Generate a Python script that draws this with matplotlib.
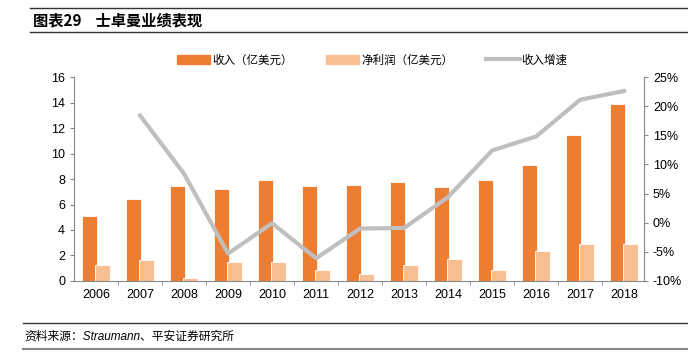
import numpy as np
import matplotlib
matplotlib.use('Agg')
from matplotlib import pyplot as plt
from matplotlib.lines import Line2D

plt.rcParams['font.family'] = ['Liberation Sans', 'Noto Sans CJK SC', 'DejaVu Sans']

years = ['2006', '2007', '2008', '2009', '2010', '2011', '2012',
         '2013', '2014', '2015', '2016', '2017', '2018']
revenue = [5.09, 6.40, 7.47, 7.23, 7.96, 7.47, 7.54, 7.73, 7.36, 7.96, 9.08, 11.43, 13.88]
profit = [1.25, 1.64, 0.20, 1.51, 1.51, 0.86, 0.52, 1.25, 1.72, 0.83, 2.35, 2.90, 2.87]
growth = [np.nan, 18.4, 8.4, -5.3, -0.1, -6.1, -1.0, -0.9, 4.4, 12.4, 14.8, 21.1, 22.6]

rev_color = '#ED7D31'
prof_color = '#F8BF95'
line_color = '#BFBFBF'
cjk = ['Noto Sans CJK SC', 'DejaVu Sans']

fig = plt.figure(figsize=(6.88, 3.55), dpi=100)
ax = fig.add_axes([0.1076, 0.2085, 0.8284, 0.5745])
x = np.arange(len(years))

ax.bar(x - 0.145, revenue, width=0.35, color=rev_color, edgecolor='white', linewidth=0.6, zorder=2)
ax.bar(x + 0.145, profit, width=0.35, color=prof_color, edgecolor='white', linewidth=0.6, zorder=2)
ax.set_ylim(0, 16)
ax.set_yticks(range(0, 17, 2))
ax.set_xlim(-0.5, 12.45)
ax.set_xticks(x)
ax.set_xticklabels(years)
ax.set_xticks(np.arange(0.5, 12, 1), minor=True)
ax.tick_params(axis='x', which='major', length=0, pad=6, labelsize=9)
ax.tick_params(axis='x', which='minor', length=3, color='#888888')
ax.tick_params(axis='y', length=3, color='#888888', labelsize=9)
for s in ['top', 'right']:
    ax.spines[s].set_visible(False)
for s in ['left', 'bottom']:
    ax.spines[s].set_color('#888888')
    ax.spines[s].set_linewidth(0.8)

ax2 = ax.twinx()
ax2.plot(x, growth, color=line_color, linewidth=3, zorder=3)
ax2.set_ylim(-10, 25)
ax2.set_yticks(range(-10, 26, 5))
ax2.set_yticklabels([f'{v}%' for v in range(-10, 26, 5)])
ax2.tick_params(axis='y', length=3, color='#888888', labelsize=9)
for s in ['top', 'left', 'bottom']:
    ax2.spines[s].set_visible(False)
ax2.spines['right'].set_color('#888888')
ax2.spines['right'].set_linewidth(0.8)

handles = [plt.Rectangle((0, 0), 1, 1, color=rev_color),
           plt.Rectangle((0, 0), 1, 1, color=prof_color),
           Line2D([0], [0], color=line_color, linewidth=3)]
labels = ['收入（亿美元）', '净利润（亿美元）', '收入增速']
fig.legend(handles, labels, loc='center', bbox_to_anchor=(0.541, 0.831), ncol=3,
           frameon=False, prop={'family': cjk, 'size': 8.3}, handlelength=2.9,
           handleheight=0.8, columnspacing=2.9, handletextpad=0.15,
           borderpad=0, borderaxespad=0)

# header and footer
fig.text(0.048, 0.943, '图表29    士卓曼业绩表现', fontsize=11, fontweight='bold',
         family=cjk, va='center')
fig.add_artist(Line2D([0.044, 1], [0.977, 0.977], color='#333333', linewidth=1))
fig.add_artist(Line2D([0.044, 1], [0.909, 0.909], color='#333333', linewidth=1))
fig.add_artist(Line2D([0.033, 1], [0.09, 0.09], color='#333333', linewidth=1))
fig.add_artist(Line2D([0.033, 1], [0.017, 0.017], color='#888888', linewidth=1.5))
fig.text(0.036, 0.053, '资料来源：Straumann、平安证券研究所', fontsize=8.5,
         style='italic', family=['Liberation Sans', 'Noto Sans CJK SC'], va='center')

fig.savefig('out.png', dpi=100)
